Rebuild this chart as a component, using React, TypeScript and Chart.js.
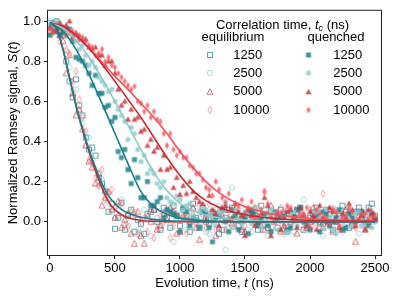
import React, { useEffect, useRef } from 'react';
import { Chart, registerables } from 'chart.js';
Chart.register(...registerables);

// sampling times (ns): two interleaved grids
const TIMES_A = [0, 50, 100, 150, 200, 250, 300, 350, 400, 450, 500, 550, 600, 650, 700, 750, 800, 850, 900, 950, 1000, 1050, 1100, 1150, 1200, 1250, 1300, 1350, 1400, 1450, 1500, 1550, 1600, 1650, 1700, 1750, 1800, 1850, 1900, 1950, 2000, 2050, 2100, 2150, 2200, 2250, 2300, 2350, 2400, 2450, 2500];
const TIMES_B = [25, 75, 125, 175, 225, 275, 325, 375, 425, 475, 525, 575, 625, 675, 725, 775, 825, 875, 925, 975, 1025, 1075, 1125, 1175, 1225, 1275, 1325, 1375, 1425, 1475, 1525, 1575, 1625, 1675, 1725, 1775, 1825, 1875, 1925, 1975, 2025, 2075, 2125, 2175, 2225, 2275, 2325, 2375, 2425, 2475];

// equilibrium, open markers
const EQ_1250_A = [0.99, 1.00, 0.93, 0.70, 0.71, 0.53, 0.36, 0.33, 0.19, 0.05,
  -0.035, 0.095, 0.03, -0.05, -0.01, 0.04, 0.06, -0.04, 0.02, 0.08,
  -0.02, 0.03, 0.09, -0.03, 0.01, 0.05, -0.06, 0.02, 0.07, -0.02,
  0.03, 0.06, -0.04, 0.01, 0.05, -0.03, 0.04, 0.0, 0.06, -0.04,
  0.02, 0.07, -0.01, 0.04, 0.0, 0.08, -0.03, 0.05, 0.02, 0.07,
  0.03];
const EQ_1250_B = [0.97, 0.95, 0.80, 0.62, 0.58, 0.42, 0.37, 0.22, 0.15, 0.09,
  0.02, -0.04, 0.06, 0.01, -0.06, 0.05, 0.0, 0.07, -0.03, 0.03,
  0.06, -0.05, 0.02, 0.07, -0.01, 0.04, -0.04, 0.06, 0.01, -0.05,
  0.05, 0.0, 0.08, -0.03, 0.03, 0.06, -0.05, 0.02, 0.07, -0.02,
  0.04, 0.0, 0.06, -0.04, 0.03, 0.05, -0.02, 0.07, 0.01, 0.09];
const EQ_2500_A = [1.0, 0.97, 0.96, 0.77, 0.66, 0.49, 0.42, 0.26, 0.21, 0.10,
  0.02, 0.11, -0.02, 0.05, -0.06, 0.01, 0.07, -0.03, 0.04, -0.10,
  0.02, -0.04, 0.06, 0.0, -0.05, 0.03, 0.08, -0.14, 0.17, -0.02,
  0.04, -0.05, 0.02, 0.06, -0.03, 0.01, -0.06, 0.05, 0.0, 0.11,
  -0.04, 0.03, -0.07, 0.02, 0.06, -0.05, 0.01, 0.04, -0.02, 0.05,
  0.0];
const EQ_2500_B = [0.99, 0.94, 0.85, 0.66, 0.55, 0.38, 0.31, 0.18, 0.16, 0.05,
  0.08, -0.01, 0.03, -0.04, 0.06, -0.07, 0.02, 0.05, -0.02, 0.01,
  0.07, -0.03, 0.0, 0.04, -0.06, 0.06, 0.01, -0.03, 0.05, 0.08,
  -0.04, 0.02, 0.0, -0.07, 0.04, 0.06, 0.01, -0.05, 0.03, 0.0,
  0.05, -0.03, 0.02, 0.07, -0.04, 0.0, 0.05, -0.06, 0.03, 0.02];
const EQ_5000_A = [0.97, 0.95, 0.90, 0.83, 0.53, 0.46, 0.30, 0.19, 0.08, 0.15,
  0.02, -0.03, 0.04, -0.11, -0.07, 0.03, 0.06, -0.02, 0.01, 0.05,
  -0.05, 0.02, 0.07, -0.09, 0.0, 0.04, -0.03, 0.06, -0.01, 0.03,
  -0.05, 0.05, 0.01, -0.04, 0.08, 0.02, -0.02, 0.04, -0.06, 0.03,
  0.0, 0.05, -0.03, 0.06, 0.01, -0.04, 0.03, -0.10, 0.05, 0.0,
  0.02];
const EQ_5000_B = [0.99, 0.93, 0.74, 0.64, 0.56, 0.38, 0.27, 0.24, 0.12, 0.06,
  0.10, 0.01, -0.06, 0.05, -0.11, 0.0, -0.04, 0.04, 0.07, -0.06,
  0.03, 0.0, -0.03, 0.05, 0.02, -0.07, 0.03, 0.01, 0.06, -0.04,
  0.02, 0.07, -0.02, 0.03, 0.0, -0.05, 0.06, 0.01, 0.04, -0.03,
  0.07, -0.01, 0.02, -0.05, 0.04, 0.06, 0.0, 0.03, -0.04, 0.05];
const EQ_10000_A = [0.95, 0.98, 0.93, 0.84, 0.75, 0.52, 0.31, 0.22, 0.26, 0.14,
  0.07, 0.09, -0.03, 0.04, 0.0, -0.05, -0.08, 0.03, 0.06, -0.02,
  0.01, -0.06, 0.04, 0.08, -0.03, 0.02, 0.05, -0.04, 0.0, 0.06,
  -0.02, 0.03, 0.07, 0.15, -0.05, 0.02, 0.05, -0.01, 0.04, -0.03,
  0.06, 0.01, 0.14, -0.02, 0.03, 0.0, 0.05, -0.03, 0.02, 0.04,
  0.01];
const EQ_10000_B = [0.97, 0.90, 0.86, 0.70, 0.61, 0.45, 0.29, 0.18, 0.11, 0.16,
  0.03, -0.02, 0.05, -0.06, 0.02, 0.06, -0.03, 0.0, -0.08, 0.04,
  0.02, 0.07, -0.01, 0.03, 0.09, -0.04, 0.01, 0.05, -0.02, 0.03,
  0.06, 0.0, -0.04, 0.04, 0.02, 0.07, -0.03, 0.01, 0.05, 0.02,
  -0.02, 0.04, 0.0, 0.06, -0.03, 0.03, 0.01, 0.05, -0.02, 0.03];

// quenched, filled markers
const Q_1250_A = [0.93, 0.95, 0.94, 0.96, 0.82, 0.80, 0.74, 0.73, 0.64, 0.58,
  0.52, 0.32, 0.26, 0.31, 0.12, 0.20, 0.08, 0.12, 0.06, 0.04,
  -0.05, 0.05, 0.02, -0.03, 0.04, -0.10, 0.03, 0.0, 0.06, -0.04,
  0.02, 0.05, -0.02, 0.04, -0.05, 0.01, 0.03, -0.03, 0.06, 0.0,
  -0.04, 0.03, 0.05, -0.02, 0.02, -0.04, 0.04, 0.0, 0.05, -0.02,
  0.01];
const Q_1250_B = [0.97, 0.93, 0.96, 0.90, 0.81, 0.78, 0.68, 0.64, 0.57, 0.50,
  0.35, 0.36, 0.19, 0.22, 0.12, 0.08, 0.10, 0.02, 0.05, 0.03,
  0.07, -0.02, 0.01, 0.05, -0.03, 0.02, 0.06, -0.05, 0.03, 0.0,
  -0.06, 0.04, 0.01, -0.02, 0.05, 0.02, -0.04, 0.03, 0.07, -0.01,
  0.02, -0.05, 0.04, 0.0, 0.06, -0.03, 0.02, 0.05, 0.0, 0.04];
const Q_2500_A = [0.98, 1.0, 0.97, 0.95, 0.90, 0.88, 0.78, 0.77, 0.70, 0.65,
  0.60, 0.53, 0.41, 0.44, 0.30, 0.24, 0.24, 0.17, 0.12, 0.09,
  0.11, 0.08, 0.03, 0.05, 0.06, 0.0, 0.04, 0.09, -0.03, 0.02,
  0.05, -0.01, 0.03, 0.0, 0.06, -0.04, 0.02, 0.04, -0.02, 0.03,
  0.0, 0.05, -0.03, 0.02, -0.06, 0.03, 0.01, 0.04, -0.02, 0.05,
  0.0];
const Q_2500_B = [0.96, 0.99, 0.93, 0.92, 0.86, 0.83, 0.80, 0.72, 0.68, 0.66,
  0.56, 0.50, 0.47, 0.36, 0.33, 0.26, 0.19, 0.20, 0.10, 0.13,
  0.06, 0.09, 0.01, 0.07, 0.03, -0.02, 0.05, 0.02, 0.06, -0.01,
  0.03, 0.07, -0.03, 0.02, 0.04, 0.0, -0.05, 0.05, 0.01, -0.02,
  0.04, 0.02, 0.06, -0.04, 0.01, 0.03, -0.02, 0.05, 0.0, -0.03];
const Q_5000_A = [0.97, 0.96, 0.97, 1.0, 0.94, 0.91, 0.87, 0.87, 0.83, 0.80,
  0.74, 0.58, 0.51, 0.51, 0.45, 0.38, 0.35, 0.26, 0.26, 0.17,
  0.135, 0.14, 0.15, 0.10, 0.01, 0.06, -0.02, 0.08, 0.02, 0.05,
  -0.07, 0.03, 0.0, 0.12, -0.07, 0.04, 0.02, 0.06, -0.03, 0.03,
  0.05, -0.04, 0.02, 0.07, 0.0, 0.04, 0.09, -0.02, 0.03, 0.06,
  0.01];
const Q_5000_B = [0.95, 0.99, 0.98, 0.92, 0.93, 0.91, 0.86, 0.83, 0.78, 0.80,
  0.66, 0.60, 0.56, 0.52, 0.46, 0.41, 0.37, 0.33, 0.27, 0.22,
  0.18, 0.20, 0.12, 0.09, 0.13, 0.04, 0.07, 0.01, 0.09, 0.03,
  0.06, -0.02, 0.04, 0.08, 0.01, -0.04, 0.05, 0.02, 0.07, -0.02,
  0.03, 0.08, 0.0, 0.05, -0.03, 0.02, 0.06, 0.01, -0.04, 0.04];
const Q_10000_A = [0.96, 0.98, 0.96, 0.94, 0.94, 0.92, 0.88, 0.83, 0.86, 0.82,
  0.77, 0.72, 0.68, 0.675, 0.59, 0.58, 0.55, 0.50, 0.38, 0.36,
  0.35, 0.32, 0.27, 0.24, 0.17, 0.13, 0.16, 0.10, 0.06, 0.08,
  0.04, 0.10, 0.03, 0.15, 0.02, 0.05, -0.02, 0.07, 0.01, 0.04,
  -0.03, 0.06, 0.02, -0.01, 0.05, 0.02, 0.07, -0.02, 0.04, 0.01,
  0.03];
const Q_10000_B = [0.94, 0.97, 0.93, 0.95, 0.91, 0.90, 0.87, 0.84, 0.80, 0.78,
  0.74, 0.70, 0.66, 0.60, 0.55, 0.52, 0.51, 0.44, 0.44, 0.33,
  0.32, 0.28, 0.24, 0.21, 0.16, 0.20, 0.12, 0.14, 0.09, 0.11,
  0.07, 0.02, 0.06, 0.09, 0.0, 0.04, 0.08, 0.01, 0.03, 0.07,
  0.0, 0.04, 0.02, 0.06, -0.02, 0.03, 0.05, 0.01, 0.04, 0.02];

// fitted curves
const FIT_EQ_RED_T = [0, 50, 100, 150, 200, 250, 300, 350, 400, 450, 500, 550, 600, 700, 800, 1000, 1500, 2500];
const FIT_EQ_RED_V = [0.995, 0.965, 0.86, 0.72, 0.58, 0.46, 0.35, 0.255, 0.17, 0.10, 0.06, 0.035, 0.02, 0.006, 0.002, 0, 0, 0];
const FIT_EQ_TEAL_T = [0, 50, 100, 150, 200, 250, 300, 350, 400, 450, 500, 550, 600, 700, 800, 900, 1000, 1200, 2500];
const FIT_EQ_TEAL_V = [0.995, 0.965, 0.86, 0.72, 0.58, 0.465, 0.36, 0.27, 0.19, 0.13, 0.09, 0.062, 0.043, 0.022, 0.011, 0.005, 0.002, 0, 0];
const FIT_Q1250_T = [0, 100, 200, 300, 400, 500, 600, 700, 800, 900, 1000, 1100, 1200, 1400, 1600, 2500];
const FIT_Q1250_V = [0.99, 0.95, 0.86, 0.735, 0.59, 0.44, 0.29, 0.15, 0.075, 0.037, 0.018, 0.009, 0.004, 0.001, 0, 0];
const FIT_Q2500_T = [0, 100, 200, 300, 400, 500, 600, 700, 800, 900, 1000, 1100, 1200, 1300, 1400, 1600, 1800, 2000, 2500];
const FIT_Q2500_V = [0.99, 0.965, 0.905, 0.82, 0.715, 0.60, 0.48, 0.36, 0.245, 0.155, 0.092, 0.056, 0.034, 0.02, 0.012, 0.004, 0.001, 0, 0];
const FIT_Q5000_T = [0, 100, 200, 300, 400, 500, 600, 700, 800, 900, 1000, 1100, 1200, 1300, 1400, 1500, 1600, 1800, 2000, 2200, 2500];
const FIT_Q5000_V = [0.99, 0.975, 0.93, 0.865, 0.785, 0.70, 0.61, 0.52, 0.42, 0.32, 0.23, 0.155, 0.105, 0.072, 0.05, 0.035, 0.025, 0.012, 0.006, 0.003, 0.001];
const FIT_Q10000_T = [0, 100, 200, 300, 400, 500, 600, 700, 800, 900, 1000, 1100, 1200, 1300, 1400, 1500, 1600, 1700, 1800, 2000, 2200, 2500];
const FIT_Q10000_V = [0.99, 0.97, 0.925, 0.865, 0.795, 0.725, 0.66, 0.59, 0.52, 0.44, 0.35, 0.27, 0.2, 0.145, 0.105, 0.075, 0.055, 0.04, 0.03, 0.016, 0.008, 0.003];

const X_TICKS = [0, 500, 1000, 1500, 2000, 2500];
const Y_TICKS = [0, 0.2, 0.4, 0.6, 0.8, 1.0];
const LEGEND_LABELS = ['1250', '2500', '5000', '10000'];

const TEAL = '#1a7e87';
const LTEAL = '#8fc9cc';
const RED = '#c42a32';
const SALMON = '#f4525a';
const FONT = '"Liberation Sans", Arial, Helvetica, sans-serif';

type Shape = 'square' | 'circle' | 'triangle' | 'diamond';

function makeMarker(shape: Shape, color: string, filled: boolean, alpha: number): HTMLCanvasElement {
  const s = 10;
  const c = document.createElement('canvas');
  c.width = s; c.height = s;
  const ctx = c.getContext('2d')!;
  ctx.globalAlpha = alpha;
  ctx.strokeStyle = color;
  ctx.fillStyle = color;
  ctx.lineWidth = 1;
  const m = s / 2;
  ctx.beginPath();
  if (shape === 'square') ctx.rect(m - 2.5, m - 2.5, 5, 5);
  else if (shape === 'circle') ctx.arc(m, m, 2.6, 0, Math.PI * 2);
  else if (shape === 'triangle') { ctx.moveTo(m, m - 3.3); ctx.lineTo(m + 3, m + 2.3); ctx.lineTo(m - 3, m + 2.3); ctx.closePath(); }
  else { ctx.moveTo(m, m - 3.6); ctx.lineTo(m + 2.1, m); ctx.lineTo(m, m + 3.6); ctx.lineTo(m - 2.1, m); ctx.closePath(); }
  if (filled) ctx.fill(); else ctx.stroke();
  return c;
}

type Part = { t: string; it?: boolean; sub?: boolean };
function partFont(p: Part) {
  if (p.sub) return `italic 9px ${FONT}`;
  return `${p.it ? 'italic ' : ''}13px ${FONT}`;
}
function drawRich(ctx: CanvasRenderingContext2D, parts: Part[], x: number, y: number) {
  let w = 0;
  for (const p of parts) { ctx.font = partFont(p); w += ctx.measureText(p.t).width; }
  let cx = x - w / 2;
  ctx.textBaseline = 'middle';
  ctx.textAlign = 'left';
  for (const p of parts) {
    ctx.font = partFont(p);
    ctx.fillText(p.t, cx, p.sub ? y + 3 : y);
    cx += ctx.measureText(p.t).width;
  }
}

export default function App() {
  const ref = useRef<HTMLCanvasElement>(null);
  useEffect(() => {
    document.body.style.margin = '0';
    const eqM = [
      makeMarker('square', TEAL, false, 0.7),
      makeMarker('circle', LTEAL, false, 0.7),
      makeMarker('triangle', RED, false, 0.65),
      makeMarker('diamond', SALMON, false, 0.55),
    ];
    const qM = [
      makeMarker('square', TEAL, true, 0.82),
      makeMarker('circle', LTEAL, true, 0.8),
      makeMarker('triangle', RED, true, 0.8),
      makeMarker('diamond', SALMON, true, 0.8),
    ];
    const pts = (a: number[], b: number[]) => [
      ...TIMES_A.map((t, i) => ({ x: t, y: a[i] })),
      ...TIMES_B.map((t, i) => ({ x: t, y: b[i] })),
    ];
    const curve = (ts: number[], vs: number[]) => ts.map((t, i) => ({ x: t, y: vs[i] }));
    const scatter = (a: number[], b: number[], m: HTMLCanvasElement) => ({
      type: 'scatter' as const, data: pts(a, b), pointStyle: m, pointRadius: 3, showLine: false, order: 1,
    });
    const line = (ts: number[], vs: number[], color: string) => ({
      type: 'line' as const, data: curve(ts, vs), borderColor: color, borderWidth: 1.6, pointRadius: 0,
      cubicInterpolationMode: 'monotone' as const, fill: false, order: 0,
    });

    const frame = {
      id: 'frameAndText',
      afterDatasetsDraw(chart: any) {
        const { ctx, chartArea: a } = chart;
        ctx.save();
        ctx.strokeStyle = '#222';
        ctx.lineWidth = 1;
        ctx.strokeRect(a.left - 0.5, a.top - 0.5, a.right - a.left + 1, a.bottom - a.top + 1);
        ctx.fillStyle = '#000';
        drawRich(ctx, [{ t: 'Evolution time, ' }, { t: 't', it: true }, { t: ' (ns)' }], (a.left + a.right) / 2, 283);
        ctx.save();
        ctx.translate(13, (a.top + a.bottom) / 2);
        ctx.rotate(-Math.PI / 2);
        drawRich(ctx, [{ t: 'Normalized Ramsey signal, ' }, { t: 'S', it: true }, { t: '(' }, { t: 't', it: true }, { t: ')' }], 0, 0);
        ctx.restore();
        drawRich(ctx, [{ t: 'Correlation time, ' }, { t: 't', it: true }, { t: 'c', sub: true }, { t: ' (ns)' }], 282.5, 25);
        drawRich(ctx, [{ t: 'equilibrium' }], 233, 37);
        drawRich(ctx, [{ t: 'quenched' }], 336, 37);
        const rows = [55, 73.3, 91.7, 110];
        ctx.font = `13px ${FONT}`;
        ctx.textAlign = 'left';
        ctx.textBaseline = 'middle';
        rows.forEach((ry, i) => {
          ctx.drawImage(eqM[i], 210 - 5, Math.round(ry) - 5);
          ctx.drawImage(qM[i], 308.5 - 5, Math.round(ry) - 5);
          ctx.fillText(LEGEND_LABELS[i], 233.3, ry);
          ctx.fillText(LEGEND_LABELS[i], 333.3, ry);
        });
        ctx.restore();
      },
    };

    const chart = new Chart(ref.current!, {
      type: 'scatter',
      data: {
        datasets: [
          line(FIT_EQ_TEAL_T, FIT_EQ_TEAL_V, TEAL),
          line(FIT_EQ_RED_T, FIT_EQ_RED_V, RED),
          line(FIT_Q1250_T, FIT_Q1250_V, TEAL),
          line(FIT_Q2500_T, FIT_Q2500_V, LTEAL),
          line(FIT_Q5000_T, FIT_Q5000_V, RED),
          line(FIT_Q10000_T, FIT_Q10000_V, SALMON),
          scatter(Q_10000_A, Q_10000_B, qM[3]),
          scatter(Q_5000_A, Q_5000_B, qM[2]),
          scatter(Q_2500_A, Q_2500_B, qM[1]),
          scatter(Q_1250_A, Q_1250_B, qM[0]),
          scatter(EQ_10000_A, EQ_10000_B, eqM[3]),
          scatter(EQ_5000_A, EQ_5000_B, eqM[2]),
          scatter(EQ_2500_A, EQ_2500_B, eqM[1]),
          scatter(EQ_1250_A, EQ_1250_B, eqM[0]),
        ] as any,
      },
      options: {
        responsive: false,
        animation: false,
        devicePixelRatio: 1,
        layout: { padding: { left: 0, right: 15, top: 6, bottom: 0 } },
        plugins: { legend: { display: false }, tooltip: { enabled: false } },
        scales: {
          x: {
            type: 'linear', min: -15, max: 2546,
            afterBuildTicks: (s: any) => { s.ticks = X_TICKS.map((v) => ({ value: v })); },
            afterFit: (s: any) => { s.height = 42; },
            grid: { drawOnChartArea: false, drawTicks: true, tickLength: 4, color: '#222' },
            border: { display: false },
            ticks: { color: '#000', font: { family: FONT, size: 13 }, padding: 2, maxRotation: 0, autoSkip: false, callback: (v: any) => String(v) },
          },
          y: {
            type: 'linear', min: -0.166, max: 1.052,
            afterBuildTicks: (s: any) => { s.ticks = Y_TICKS.map((v) => ({ value: v })); },
            afterFit: (s: any) => { s.width = 48; },
            grid: { drawOnChartArea: false, drawTicks: true, tickLength: 4, color: '#222' },
            border: { display: false },
            ticks: { color: '#000', font: { family: FONT, size: 13 }, padding: 3, autoSkip: false, callback: (v: any) => Number(v).toFixed(1) },
          },
        },
      },
      plugins: [frame],
    } as any);
    return () => chart.destroy();
  }, []);
  return (
    <div style={{ position: 'absolute', left: 0, top: 0, width: 396, height: 297, background: '#fff' }}>
      <canvas ref={ref} width={396} height={297} style={{ display: 'block', width: 396, height: 297 }} />
    </div>
  );
}
